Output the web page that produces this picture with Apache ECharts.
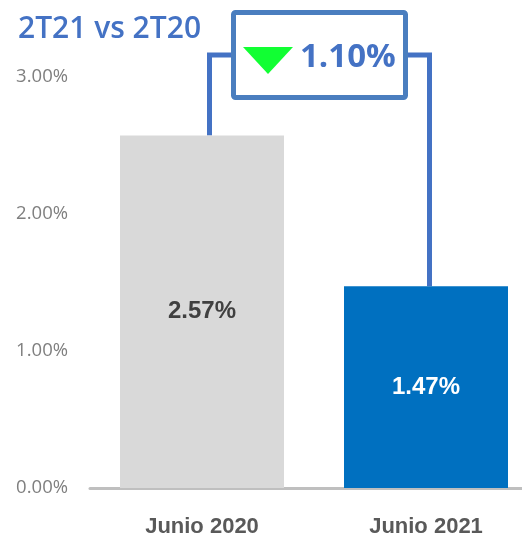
<!DOCTYPE html>
<html>
<head>
<meta charset="utf-8">
<script src="https://cdn.jsdelivr.net/npm/echarts@6/dist/echarts.min.js"></script>
<style>html,body{margin:0;padding:0;background:#fff}#c{width:522px;height:539px}</style>
</head>
<body>
<div id="c"></div>
<script>
const categories = ['Junio 2020', 'Junio 2021'];
const values = [2.57, 1.47];
const barColors = ['#d9d9d9', '#0070c0'];
const labelColors = ['#404040', '#ffffff'];
const yTicks = [0, 1, 2, 3];
const titleText = '2T21 vs 2T20';
const changeText = '1.10%';

const chart = echarts.init(document.getElementById('c'), null, {renderer: 'canvas'});
chart.setOption({
  animation: false,
  grid: {left: 90, top: 76.5, width: 448, height: 411.5, containLabel: false, outerBoundsMode: 'none'},
  xAxis: {
    type: 'category',
    data: categories,
    axisLine: {show: true, lineStyle: {color: '#bfbfbf', width: 3}},
    axisTick: {show: false},
    axisLabel: {margin: 28, fontSize: 22, lineHeight: 22, fontWeight: 'bold', color: '#595959', fontFamily: 'Liberation Sans'}
  },
  yAxis: {
    type: 'value',
    min: yTicks[0], max: yTicks[yTicks.length - 1], interval: 1,
    splitLine: {show: false},
    axisLine: {show: false},
    axisTick: {show: false},
    axisLabel: {margin: 22, fontSize: 18.5, color: '#7f7f7f', fontFamily: 'Open Sans',
      formatter: v => v.toFixed(2) + '%'}
  },
  series: [{
    type: 'bar',
    barWidth: 164,
    data: values.map((v, i) => ({
      value: v,
      itemStyle: {color: barColors[i]},
      label: {color: labelColors[i]}
    })),
    label: {show: true, position: 'inside', fontSize: 24, fontWeight: 'bold', fontFamily: 'Liberation Sans',
      formatter: p => p.value.toFixed(2) + '%'}
  }]
});

const p1 = chart.convertToPixel({xAxisIndex: 0, yAxisIndex: 0}, [0, values[0]]);
const p2 = chart.convertToPixel({xAxisIndex: 0, yAxisIndex: 0}, [1, values[1]]);
const lx = p1[0] + 7.5, rx = p2[0] + 3.5, hy = 55;
const boxL = 233.5, boxR = 405.5, boxT = 12.5, boxB = 97.5;
const lineColor = '#4472c4';
chart.setOption({
  graphic: [
    {type: 'polyline', shape: {points: [[lx, p1[1]], [lx, hy], [boxL, hy]]}, style: {stroke: lineColor, lineWidth: 5, fill: null}},
    {type: 'polyline', shape: {points: [[boxR, hy], [rx, hy], [rx, p2[1]]]}, style: {stroke: lineColor, lineWidth: 5, fill: null}},
    {type: 'rect', shape: {x: boxL, y: boxT, width: boxR - boxL, height: boxB - boxT, r: 2}, style: {stroke: '#4a7ebf', lineWidth: 5, fill: '#fff'}},
    {type: 'polygon', shape: {points: [[243, 47], [293, 47], [268, 74]]}, style: {fill: '#11ff33'}},
    {type: 'text', x: 300, y: 58, style: {text: changeText, fontSize: 33, fontWeight: 'bold', fontFamily: 'Open Sans', fill: lineColor, verticalAlign: 'middle', align: 'left'}},
    {type: 'text', x: 18, y: 29.5, style: {text: titleText, fontSize: 30, fontWeight: 600, fontFamily: 'Open Sans', fill: lineColor, verticalAlign: 'middle', align: 'left'}}
  ]
});
</script>
</body>
</html>
